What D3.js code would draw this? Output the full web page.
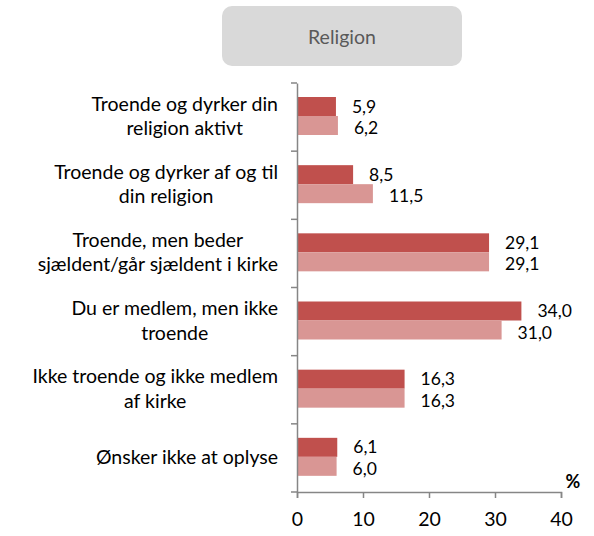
<!DOCTYPE html>
<html>
<head>
<meta charset="utf-8">
<script src="https://cdn.jsdelivr.net/npm/d3@7"></script>
<style>
  body { margin: 0; background: #fff; }
  svg { font-family: Lato, "Open Sans", sans-serif; }
</style>
</head>
<body>
<div id="chart"></div>
<script>
const categories = [
  ["Troende og dyrker din", "religion aktivt"],
  ["Troende og dyrker af og til", "din religion"],
  ["Troende, men beder", "sjældent/går sjældent i kirke"],
  ["Du er medlem, men ikke", "troende"],
  ["Ikke troende og ikke medlem", "af kirke"],
  ["Ønsker ikke at oplyse"]
];
const seriesA = [5.9, 8.5, 29.1, 34.0, 16.3, 6.1];
const seriesB = [6.2, 11.5, 29.1, 31.0, 16.3, 6.0];
const xTicks = [0, 10, 20, 30, 40];
const title = "Religion";

const width = 594, height = 536;
const colors = ["#c0504d", "#d99694"];
const axisColor = "#868686";
const fs = "19.5px";

const svg = d3.select("#chart").append("svg")
  .attr("width", width)
  .attr("height", height);

// title box
svg.append("rect")
  .attr("x", 222).attr("y", 6)
  .attr("width", 240).attr("height", 60)
  .attr("rx", 10)
  .attr("fill", "#d9d9d9");
svg.append("text")
  .attr("x", 342).attr("y", 44)
  .attr("text-anchor", "middle")
  .attr("fill", "#595959")
  .style("font-size", fs)
  .text(title);

const x = d3.scaleLinear().domain([0, 40]).range([297, 561]);
const y = d3.scaleBand().domain(d3.range(categories.length)).range([83, 492]);
const inner = d3.scaleBand().domain([0, 1]).range([14, 52]);

// bars
const rows = svg.append("g").selectAll("g")
  .data(categories.map((c, i) => ({ i, vals: [seriesA[i], seriesB[i]] })))
  .join("g")
  .attr("transform", d => `translate(0,${y(d.i)})`);

rows.selectAll("rect")
  .data(d => d.vals)
  .join("rect")
  .attr("x", x(0))
  .attr("y", (v, j) => inner(j))
  .attr("width", v => x(v) - x(0))
  .attr("height", inner.bandwidth())
  .attr("fill", (v, j) => colors[j]);

// value labels (nudged apart a little so they don't collide)
rows.selectAll("text.val")
  .data(d => d.vals)
  .join("text")
  .attr("class", "val")
  .attr("x", v => x(v) + 16)
  .attr("y", (v, j) => inner(j) + inner.bandwidth() / 2 + (j === 0 ? 0 : 2.5))
  .attr("dy", "0.35em")
  .style("font-size", "17.5px")
  .attr("fill", "#000")
  .text(v => d3.format(".1f")(v).replace(".", ","));

// axes
const xAxis = svg.append("g")
  .attr("transform", "translate(0,492)")
  .call(d3.axisBottom(x).tickValues(xTicks).tickSize(6).tickPadding(14));
const yAxis = svg.append("g")
  .attr("transform", `translate(${x(0)},0)`)
  .call(d3.axisLeft(y).tickValues([]).tickSizeOuter(0));

[xAxis, yAxis].forEach(a => {
  a.select(".domain").attr("stroke", axisColor).attr("stroke-width", 1.5);
  a.selectAll(".tick line").attr("stroke", axisColor).attr("stroke-width", 1.5);
});
xAxis.selectAll("text").style("font-size", fs).attr("fill", "#000")
  .style("font-family", "Lato, 'Open Sans', sans-serif");

// y tick marks at band edges
yAxis.selectAll("line.edge")
  .data(d3.range(categories.length + 1))
  .join("line")
  .attr("class", "edge")
  .attr("x1", -6).attr("x2", 0)
  .attr("y1", i => 83 + i * y.step())
  .attr("y2", i => 83 + i * y.step())
  .attr("stroke", axisColor).attr("stroke-width", 1.5);

// category labels, right-aligned block with centered lines
const lineH = 24.5;
categories.forEach((lines, i) => {
  const cy = y(i) + y.bandwidth() / 2 - 1;
  const g = svg.append("g");
  const texts = lines.map((ln, k) => g.append("text")
    .attr("y", cy + (k - (lines.length - 1) / 2) * lineH)
    .attr("dy", "0.35em")
    .attr("text-anchor", "middle")
    .style("font-size", fs)
    .attr("fill", "#000")
    .text(ln));
  const maxW = d3.max(texts, t => t.node().getComputedTextLength());
  texts.forEach(t => t.attr("x", 278 - maxW / 2));
});

svg.append("text")
  .attr("x", 573).attr("y", 488)
  .attr("text-anchor", "middle")
  .style("font-size", "18px")
  .style("font-weight", "bold")
  .text("%");
</script>
</body>
</html>
